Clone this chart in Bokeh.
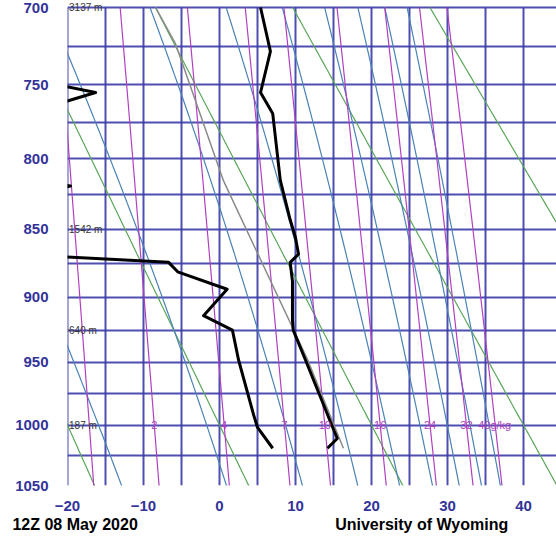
import math
from bokeh.plotting import figure
from bokeh.models import Range1d, FixedTicker, CustomJSTickFormatter, ColumnDataSource, LinearAxis
from bokeh.embed import file_html
from bokeh.resources import INLINE
from bokeh.core.properties import value

KAPPA = 0.286

# ---------------- data ----------------
pressure_ticks = [700, 750, 800, 850, 900, 950, 1000, 1050]
temp_ticks = [-20, -10, 0, 10, 20, 30, 40]
iso_grid = list(range(-20, 46, 5))
pres_grid = list(range(700, 1051, 25))

temp_p = [1019, 1011, 1002, 948, 925, 917, 888, 874, 868, 856, 843, 815, 769, 755, 728, 700]
temp_t = [14.2, 15.5, 14.9, 11.3, 9.7, 9.6, 9.6, 9.3, 10.4, 10.0, 9.3, 8.0, 7.0, 5.4, 6.7, 5.4]

dew_p = [1019, 1002, 992, 948, 925, 914, 894, 881, 874, 867, 828, 819, 810, 776, 755, 741, 700]
dew_t = [7.0, 5.0, 4.5, 2.5, 1.7, -2.1, 1.0, -5.5, -6.7, -30, -30, -19.6, -30, -30, -16.3, -30, -35]

parcel_p = [1019, 948, 815, 723, 700]
parcel_t = [16.3, 11.6, 0.5, -5.8, -8.4]

height_p = [700, 850, 925, 1000]
height_lbl = ["3137 m", "1542 m", "640 m", "187 m"]

mixr_values = [1, 2, 4, 7, 10, 16, 24, 32, 40]
mixr_labels = ["", "2", "4", "7", "10", "16", "24", "32", "40g/kg"]
theta_values = [253.15, 273.15, 293.15, 313.15, 333.15]
theta_e_values = [260, 280, 300, 320, 340, 360, 380, 400, 420]

footer_left = "12Z 08 May 2020"
footer_right = "University of Wyoming"

# ---------------- helpers ----------------
def yv(p):
    return p ** KAPPA

P_LINE = [700 + 2 * i for i in range(181)]  # 700..1060

def dew_from_e(e):
    a = math.log(e / 6.112)
    return 243.5 * a / (17.67 - a)

def mixr_T(w, p):
    e = w * p / (622.0 + w)
    return dew_from_e(e)

def es(Tk):
    tc = Tk - 273.15
    return 6.112 * math.exp(17.67 * tc / (tc + 243.5))

def theta_e(Tk, p):
    e = es(Tk)
    rs = 0.622 * e / (p - e)
    return Tk * (1000.0 / p) ** KAPPA * math.exp(2.5e6 * rs / (1004.0 * Tk))

def moist_T(the, p):
    lo, hi = 180.0, 330.0
    for _ in range(50):
        mid = 0.5 * (lo + hi)
        if theta_e(mid, p) < the:
            lo = mid
        else:
            hi = mid
    return 0.5 * (lo + hi) - 273.15

# ---------------- figure ----------------
XMIN = -20
XMAX = -20 + 489 / 7.6
SCALE = 478.0 / (yv(1050) - yv(700))      # px per unit of p**kappa
Y_TOP = yv(700) - 6.0 / SCALE             # a few px of room above 700 hPa for its label

fig = figure(width=556, height=536, output_backend="svg", toolbar_location=None,
             x_range=Range1d(XMIN, XMAX), y_range=Range1d(yv(1050), Y_TOP),
             min_border_left=67, min_border_right=0, min_border_top=1, min_border_bottom=51,
             outline_line_color=None, background_fill_color="white", border_fill_color="white")

GRID = "#3b3ba8"
fig.xgrid.visible = False
fig.ygrid.ticker = FixedTicker(ticks=[yv(q) for q in pres_grid])
fig.ygrid.grid_line_color = GRID
fig.ygrid.grid_line_width = 2
fig.ygrid.grid_line_alpha = 0.9
# isotherm grid, only between 700 and 1050 hPa
fig.segment(x0=iso_grid, y0=[yv(700)] * len(iso_grid), x1=iso_grid, y1=[yv(1050)] * len(iso_grid),
            line_color=GRID, line_width=2, line_alpha=0.9)

fig.xaxis.ticker = FixedTicker(ticks=temp_ticks)
fig.yaxis.ticker = FixedTicker(ticks=[yv(q) for q in pressure_ticks])
fig.yaxis.formatter = CustomJSTickFormatter(code="return Math.round(Math.pow(tick, 1/0.286)).toFixed(0);")
for ax in (fig.xaxis, fig.yaxis):
    ax.axis_line_color = None
    ax.major_tick_line_color = None
    ax.minor_tick_line_color = None
    ax.major_label_text_font = "Liberation Sans"
    ax.major_label_text_font_style = "bold"
    ax.major_label_text_font_size = "15px"
    ax.major_label_text_color = "#333399"
fig.xaxis.major_label_standoff = 9
fig.yaxis.major_label_standoff = 13

# footer texts, carried by a second, bare axis below the first
foot = LinearAxis(ticker=FixedTicker(ticks=[-19, 26.6]),
                  major_label_overrides={-19: footer_left, 26.6: footer_right},
                  axis_line_color=None, major_tick_line_color=None, minor_tick_line_color=None,
                  major_label_text_font="Liberation Sans", major_label_text_font_style="bold",
                  major_label_text_font_size="16px", major_label_text_color="black",
                  major_label_standoff=-4)
fig.add_layout(foot, "below")

# dry adiabats
for th in theta_values:
    xs = [th * (q / 1000.0) ** KAPPA - 273.15 for q in P_LINE]
    fig.line(xs, [yv(q) for q in P_LINE], line_color="#5aa65a", line_width=1.2)

# moist adiabats (constant equivalent potential temperature)
for the in theta_e_values:
    xs = [moist_T(the, q) for q in P_LINE]
    fig.line(xs, [yv(q) for q in P_LINE], line_color="#4a82b4", line_width=1.2)

# mixing ratio lines
for w in mixr_values:
    xs = [mixr_T(w, q) for q in P_LINE]
    fig.line(xs, [yv(q) for q in P_LINE], line_color="#b040c0", line_width=1.2)

# grey line
fig.line(parcel_t, [yv(q) for q in parcel_p], line_color="#8a8a8a", line_width=1.5)

# sounding
fig.line(temp_t, [yv(q) for q in temp_p], line_color="black", line_width=3, line_join="round")
fig.line(dew_t, [yv(q) for q in dew_p], line_color="black", line_width=3, line_join="round")

# mixing ratio labels at 1000 hPa
mx = [mixr_T(w, 1000) for w in mixr_values]
lab_src = ColumnDataSource(dict(x=mx[:-1], y=[yv(1000)] * (len(mx) - 1), t=mixr_labels[:-1]))
fig.text("x", "y", "t", source=lab_src, text_color="#b040c0", text_font=value("Liberation Sans"),
         text_font_size="11px", text_align="center", text_baseline="middle")
fig.text([mx[-1]], [yv(1000)], [mixr_labels[-1]], text_color="#b040c0", text_font=value("Liberation Sans"),
         text_font_size="11px", text_align="left", text_baseline="middle", x_offset=-17)

# height labels
hsrc = ColumnDataSource(dict(x=[-19.8] * len(height_p), y=[yv(q) for q in height_p], t=height_lbl))
fig.text("x", "y", "t", source=hsrc, text_color="#333333", text_font=value("Liberation Sans"),
         text_font_size="10px", text_align="left", text_baseline="middle")

open("out.html", "w").write(file_html(fig, INLINE))
